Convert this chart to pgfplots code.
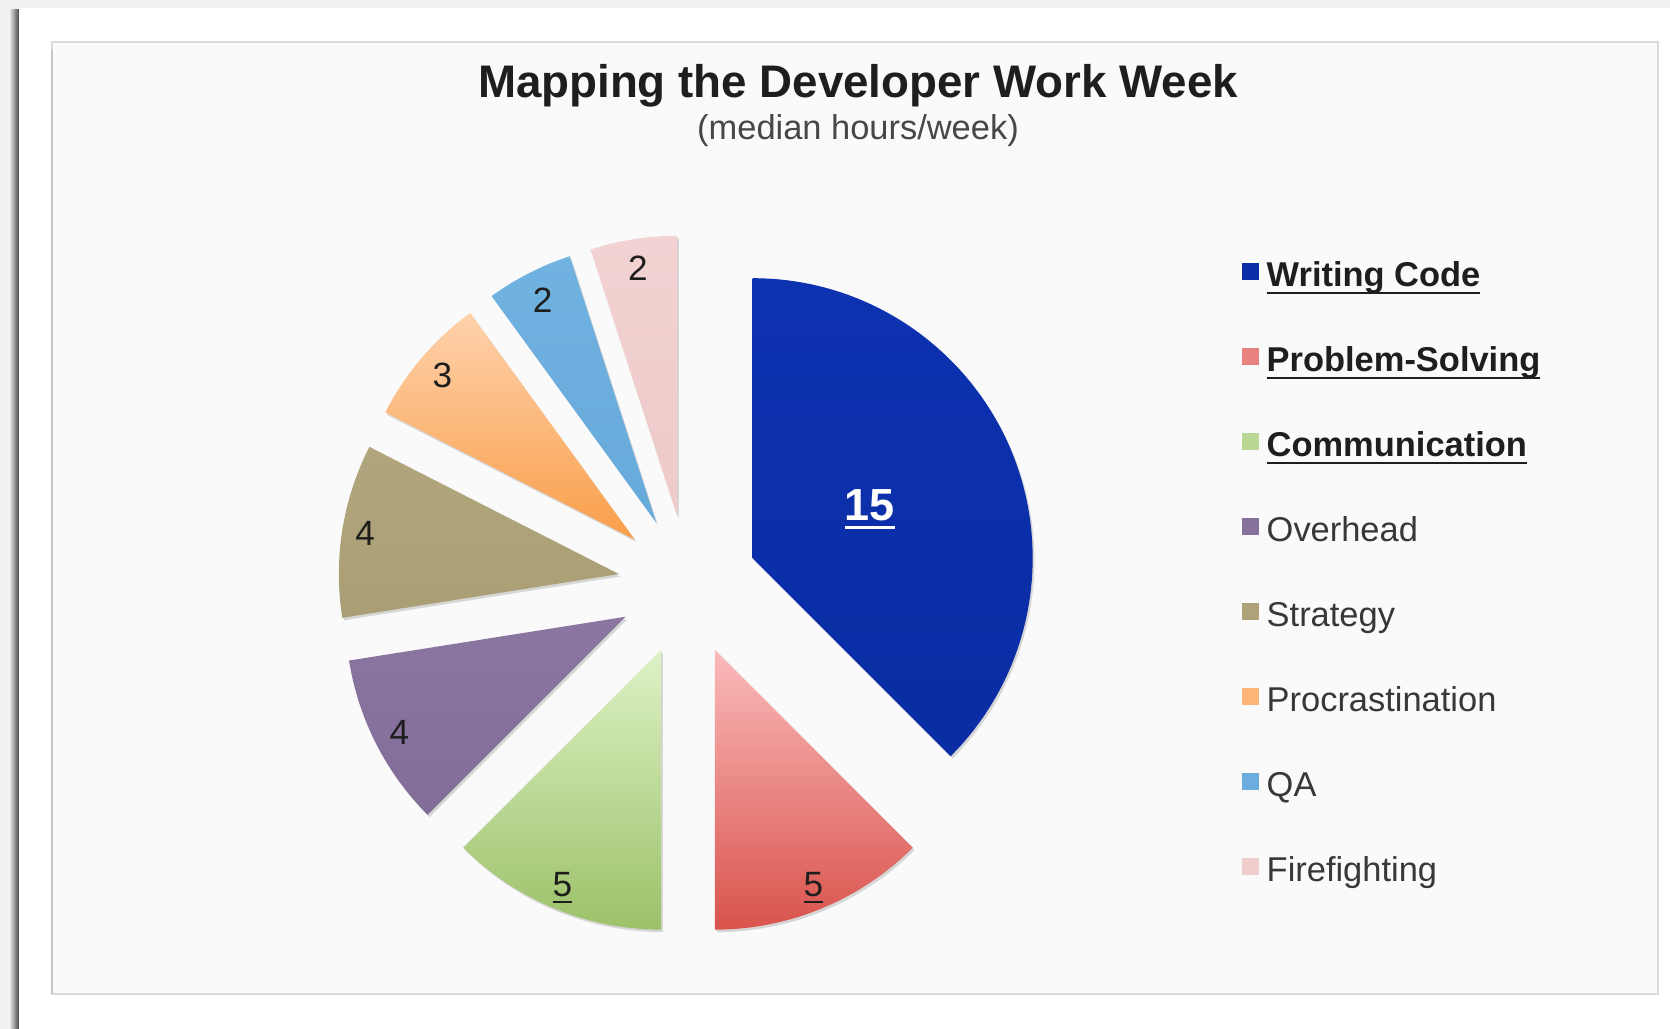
\documentclass[border=0pt]{standalone}
\usepackage{pgfplots}
\pgfplotsset{compat=1.18}
\usepackage{pgfplotstable}
\usepackage{fontspec}
\setmainfont{Liberation Sans}
\usetikzlibrary{shadows}

% slice colours: top / bottom of the gradient
\definecolor{ct0}{HTML}{0D32B0}\definecolor{cb0}{HTML}{0A2CA4}
\definecolor{ct1}{HTML}{FABBBB}\definecolor{cb1}{HTML}{D9534C}
\definecolor{ct2}{HTML}{DEF2C6}\definecolor{cb2}{HTML}{9CC169}
\definecolor{ct3}{HTML}{8A76A0}\definecolor{cb3}{HTML}{826D98}
\definecolor{ct4}{HTML}{B0A57C}\definecolor{cb4}{HTML}{AA9F74}
\definecolor{ct5}{HTML}{FFD2AC}\definecolor{cb5}{HTML}{F99E4A}
\definecolor{ct6}{HTML}{70B2E0}\definecolor{cb6}{HTML}{66AADB}
\definecolor{ct7}{HTML}{F2D2D2}\definecolor{cb7}{HTML}{EECACA}
\definecolor{panel}{HTML}{FAFAFA}
\definecolor{outer}{HTML}{F1F1F1}
\definecolor{txt}{HTML}{1E1E1E}
\definecolor{legtxt}{HTML}{383838}

% median hours per week; lr = distance of the value label from the slice tip
\pgfplotstableread[col sep=comma]{
name,value,lr
Writing Code,15,127
Problem-Solving,5,258
Communication,5,258
Overhead,4,254
Strategy,4,257
Procrastination,3,253
QA,2,250
Firefighting,2,251
}\hours

\def\cx{688}\def\cy{444}\def\explode{70}\def\rad{2.8cm}

\pgfplotstablegetrowsof{\hours}
\pgfmathtruncatemacro\nrows{\pgfplotsretval-1}
\def\total{0}
\pgfplotsforeachungrouped \i in {0,...,\nrows}{%
  \pgfplotstablegetelem{\i}{value}\of\hours
  \pgfmathsetmacro\total{\total+\pgfplotsretval}%
}
\def\startang{90}
\pgfplotsforeachungrouped \i in {0,...,\nrows}{%
  \pgfplotstablegetelem{\i}{value}\of\hours
  \expandafter\xdef\csname val\i\endcsname{\pgfplotsretval}%
  \pgfmathsetmacro\endang{\startang-360*\pgfplotsretval/\total}%
  \pgfmathsetmacro\midang{(\startang+\endang)/2}%
  \pgfplotstablegetelem{\i}{lr}\of\hours
  \let\lr\pgfplotsretval
  \pgfmathsetmacro\vx{\cx+\explode*cos(\midang)}%
  \pgfmathsetmacro\vy{\cy+\explode*sin(\midang)}%
  \pgfmathsetmacro\lx{\vx+\lr*cos(\midang)}%
  \pgfmathsetmacro\ly{\vy+\lr*sin(\midang)}%
  \expandafter\xdef\csname sA\i\endcsname{\startang}%
  \expandafter\xdef\csname sB\i\endcsname{\endang}%
  \expandafter\xdef\csname vx\i\endcsname{\vx}%
  \expandafter\xdef\csname vy\i\endcsname{\vy}%
  \expandafter\xdef\csname lx\i\endcsname{\lx}%
  \expandafter\xdef\csname ly\i\endcsname{\ly}%
  \pgfplotstablegetelem{\i}{name}\of\hours
  \expandafter\xdef\csname nm\i\endcsname{\pgfplotsretval}%
  \let\startang\endang
}

% underline at a fixed depth
\newcommand\ul[3]{\setbox0\hbox{#3}\rlap{\rule[#1]{\wd0}{#2}}\box0}
\newcommand\slicelabel[2]{%
  \ifcase#1 {\fontsize{12.8}{14}\selectfont\bfseries\color{white}\ul{-2.4pt}{0.9pt}{#2}}%
  \or {\ul{-1.8pt}{0.5pt}{#2}}%
  \or {\ul{-1.8pt}{0.5pt}{#2}}%
  \else #2\fi}
\newcommand\legendlabel[2]{%
  \ifnum#1<3 {\bfseries\color{txt}\ul{-2.0pt}{0.45pt}{#2}}\else {\color{legtxt}#2}\fi}

\begin{document}
\begin{tikzpicture}
\begin{axis}[
    hide axis,
    scale only axis,
    width=16.7cm, height=10.29cm,
    xmin=0, xmax=1670, ymin=0, ymax=1029,
    clip=false,
]
% frame
\fill[outer] (axis cs:0,0) rectangle (axis cs:1670,1029);
\fill[white] (axis cs:17,0) rectangle (axis cs:1670,1021);
\shade[left color=black!5, right color=black!72] (axis cs:9,0) rectangle (axis cs:19,1019);
\filldraw[fill=panel, draw=black!14, line width=0.4pt] (axis cs:52,35) rectangle (axis cs:1658,987);
\draw[black!22, line width=0.5pt] (axis cs:52,35) -- (axis cs:52,980);

% title
\node[anchor=base, text=txt, font=\fontsize{13}{15}\selectfont\bfseries]
  at (axis cs:858,931) {Mapping the Developer Work Week};
\node[anchor=base, text=black!72, font=\fontsize{9.8}{12}\selectfont]
  at (axis cs:858,889.5) {(median hours/week)};

% slices, value labels and legend
\pgfplotsinvokeforeach{0,...,7}{
  \path[top color=ct#1, bottom color=cb#1,
        drop shadow={shadow xshift=0.5pt, shadow yshift=-0.7pt, opacity=0.14, fill=black}]
    (axis cs:\csname vx#1\endcsname,\csname vy#1\endcsname)
    -- ++(\csname sA#1\endcsname:\rad)
    arc[start angle=\csname sA#1\endcsname, end angle=\csname sB#1\endcsname, radius=\rad]
    -- cycle;
  \node[text=txt, font=\fontsize{10}{12}\selectfont]
    at (axis cs:\csname lx#1\endcsname,\csname ly#1\endcsname)
    {\slicelabel{#1}{\csname val#1\endcsname}};
  \fill[ct#1!45!cb#1] (axis cs:1242,{748.5-84.9*#1}) rectangle (axis cs:1259,{765.5-84.9*#1});
  \node[anchor=base west, font=\fontsize{9.8}{12}\selectfont, inner sep=0pt]
    at (axis cs:1266,{742-84.9*#1}) {\legendlabel{#1}{\csname nm#1\endcsname}};
}
\end{axis}
\end{tikzpicture}
\end{document}
